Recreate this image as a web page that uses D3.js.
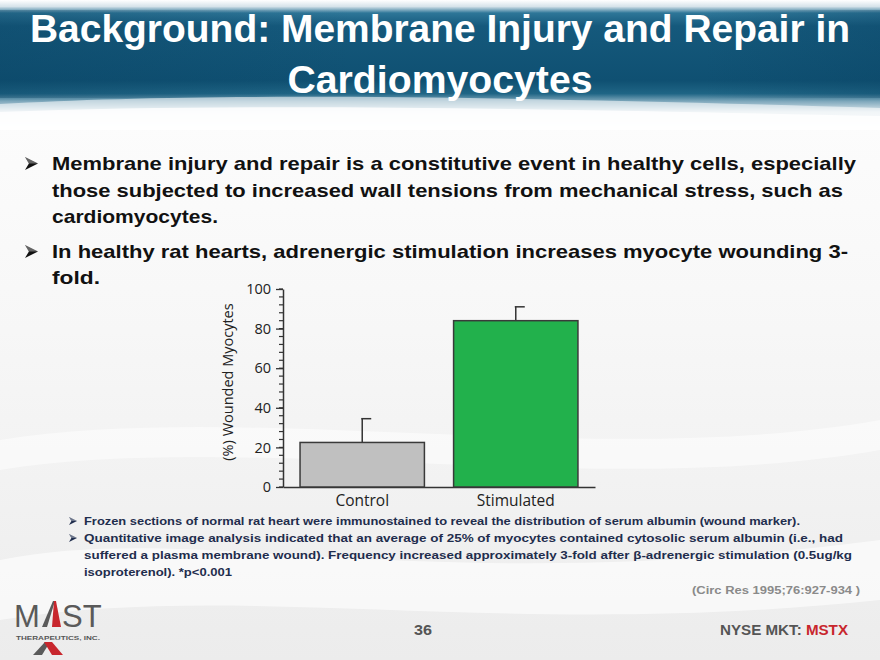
<!DOCTYPE html>
<html><head><meta charset="utf-8">
<script src="https://cdn.jsdelivr.net/npm/d3@7"></script>
<style>
html,body{margin:0;padding:0;background:#fff;}
svg{display:block;}
</style></head>
<body>
<script>
// ---- data ----
const categories = ["Control", "Stimulated"];
const values = [22.5, 84];
const errors = [12, 7];
const yTicks = [0, 20, 40, 60, 80, 100];
const yLabel = "(%) Wounded Myocytes";
const titleLines = ["Background: Membrane Injury and Repair in", "Cardiomyocytes"];
const bulletLines = [
  ["Membrane injury and repair is a constitutive event in healthy cells, especially", true],
  ["those subjected to increased wall tensions from mechanical stress, such as", false],
  ["cardiomyocytes.", false],
  ["In healthy rat hearts, adrenergic stimulation increases myocyte wounding 3-", true],
  ["fold.", false]
];
const noteLines = [
  ["Frozen sections of normal rat heart were immunostained to reveal the distribution of serum albumin (wound marker).", true],
  ["Quantitative image analysis indicated that an average of 25% of myocytes contained cytosolic serum albumin (i.e., had", true],
  ["suffered a plasma membrane wound). Frequency increased approximately 3-fold after \u03b2-adrenergic stimulation (0.5ug/kg", false],
  ["isoproterenol). *p<0.001", false]
];
const citation = "(Circ Res 1995;76:927-934 )";

const W = 880, H = 660;
const svg = d3.select("body").append("svg").attr("width", W).attr("height", H);
const defs = svg.append("defs");

// background
const bg = defs.append("linearGradient").attr("id","bg").attr("x1",0).attr("y1",0).attr("x2",0).attr("y2",1);
[[0,"#ffffff"],[0.5,"#f7f7f7"],[1,"#ececec"]].forEach(s=>bg.append("stop").attr("offset",s[0]).attr("stop-color",s[1]));
svg.append("rect").attr("width",W).attr("height",H).attr("fill","url(#bg)");
svg.append("path").attr("d","M0,560 C200,520 420,600 880,540 L880,600 C500,640 250,580 0,620 Z").attr("fill","#ffffff").attr("opacity",0.6);
svg.append("path").attr("d","M0,440 C250,400 600,470 880,420 L880,450 C600,500 250,430 0,470 Z").attr("fill","#ffffff").attr("opacity",0.5);

// header
const hg = defs.append("linearGradient").attr("id","hg").attr("x1",0).attr("y1",0).attr("x2",0).attr("y2",1);
[[0,"#ffffff"],[0.05,"#d6e3ea"],[0.1,"#2e7698"],[0.2,"#15597c"],[0.62,"#0f5072"],[0.72,"#1f6585"],[0.78,"#7fa8bc"],[0.86,"#dfe9ee"],[1,"#ffffff"]]
  .forEach(s=>hg.append("stop").attr("offset",s[0]).attr("stop-color",s[1]));
svg.append("rect").attr("x",0).attr("y",0).attr("width",W).attr("height",130).attr("fill","url(#hg)");
const hz = defs.append("linearGradient").attr("id","hz").attr("x1",0).attr("y1",0).attr("x2",1).attr("y2",0);
[[0,"#0a4262",0.35],[0.4,"#0a4262",0],[0.8,"#0a4262",0],[1,"#0a4262",0.3]].forEach(s=>hz.append("stop").attr("offset",s[0]).attr("stop-color",s[1]).attr("stop-opacity",s[2]));
svg.append("rect").attr("x",0).attr("y",10).attr("width",W).attr("height",88).attr("fill","url(#hz)");
svg.append("path").attr("d","M0,104 C200,92 500,96 880,108 L880,130 L0,130 Z").attr("fill","#ffffff").attr("opacity",0.55);
svg.append("path").attr("d","M0,112 C250,102 600,110 880,116 L880,130 L0,130 Z").attr("fill","#ffffff").attr("opacity",0.8);

// title
const titleLen = [820, 305];
svg.append("g").selectAll("text").data(titleLines).join("text")
  .attr("x",440).attr("y",(d,i)=>42+i*51)
  .attr("text-anchor","middle")
  .attr("font-family","Liberation Sans, Arial, sans-serif").attr("font-weight","bold")
  .attr("font-size",38).attr("fill","#ffffff")
  .attr("textLength",(d,i)=>titleLen[i]).attr("lengthAdjust","spacingAndGlyphs")
  .text(d=>d);

// arrow bullet shape
function arrow(g, x0, yc, s, fill){
  g.append("path")
    .attr("d",`M${x0},${yc-s*0.5} L${x0+s},${yc} L${x0},${yc+s*0.5} L${x0+s*0.3},${yc} Z`)
    .attr("fill",fill);
  g.append("path")
    .attr("d",`M${x0},${yc-s*0.5} L${x0+s},${yc} L${x0+s*0.3},${yc} Z`)
    .attr("fill","#ffffff").attr("opacity",0.35);
}

// bullets
const bodyFont = "Liberation Sans, Arial, sans-serif";
const bY = [170, 197, 223, 258, 284];
const bEnd = [856, 843, 218, 848, 100];
const bg2 = svg.append("g");
bulletLines.forEach((d,i)=>{
  if(d[1]) arrow(bg2, 25, bY[i]-6.5, 13, "#111");
  bg2.append("text").attr("x",52).attr("y",bY[i]).attr("font-family",bodyFont).attr("font-weight","bold").attr("font-size",18.5).attr("fill","#111")
    .attr("textLength",bEnd[i]-52).attr("lengthAdjust","spacingAndGlyphs").text(d[0]);
});

// chart
const x = d3.scaleBand().domain(categories).range([283,595]).paddingInner(0.19).paddingOuter(0.111);
const y = d3.scaleLinear().domain([0,100]).range([487,289]);
const chartFont = "Open Sans, Noto Sans, sans-serif";
const cg = svg.append("g");
cg.append("g").selectAll("line").data(d3.range(0,101,4)).join("line")
  .attr("x1",283).attr("x2",279).attr("y1",d=>y(d)).attr("y2",d=>y(d)).attr("stroke","#333").attr("stroke-width",1.2);
const yAxis = cg.append("g").attr("transform","translate(283,0)")
  .call(d3.axisLeft(y).tickValues(yTicks).tickSize(7).tickPadding(5).tickSizeOuter(0));
yAxis.select(".domain").attr("stroke","#333").attr("stroke-width",1.5);
yAxis.selectAll(".tick line").attr("stroke","#333").attr("stroke-width",1.3);
yAxis.selectAll(".tick text").attr("font-family",chartFont).attr("font-size",14.5).attr("fill","#222");
const xAxis = cg.append("g").attr("transform","translate(0,487)")
  .call(d3.axisBottom(x).tickSize(0).tickPadding(8).tickSizeOuter(0));
xAxis.select(".domain").attr("stroke","#333").attr("stroke-width",1.5);
xAxis.selectAll(".tick text").attr("font-family",chartFont).attr("font-size",15.5).attr("fill","#222");
cg.append("text").attr("transform","translate(233,382) rotate(-90)").attr("text-anchor","middle")
  .attr("font-family",chartFont).attr("font-size",14.5).attr("fill","#222").text(yLabel);
const colors = ["#c0c0c0","#22b14c"];
cg.append("g").selectAll("line").data(categories).join("line")
  .attr("x1",d=>x(d)+x.bandwidth()/2).attr("x2",d=>x(d)+x.bandwidth()/2)
  .attr("y1",(d,i)=>y(values[i])).attr("y2",(d,i)=>y(values[i]+errors[i]))
  .attr("stroke","#333").attr("stroke-width",1.5);
cg.append("g").selectAll("line").data(categories).join("line")
  .attr("x1",d=>x(d)+x.bandwidth()/2-1).attr("x2",d=>x(d)+x.bandwidth()/2+9)
  .attr("y1",(d,i)=>y(values[i]+errors[i])).attr("y2",(d,i)=>y(values[i]+errors[i]))
  .attr("stroke","#333").attr("stroke-width",1.5);
cg.append("g").selectAll("rect").data(categories).join("rect")
  .attr("x",d=>x(d)).attr("width",x.bandwidth())
  .attr("y",(d,i)=>y(values[i])).attr("height",(d,i)=>y(0)-y(values[i]))
  .attr("fill",(d,i)=>colors[i]).attr("stroke","#3a3a3a").attr("stroke-width",1.5);

// notes
const nY = [525, 542, 559, 576];
const nEnd = [800, 843, 852, 232];
const ng = svg.append("g");
noteLines.forEach((d,i)=>{
  if(d[1]) arrow(ng, 69, nY[i]-4, 8, "#1f2d4d");
  ng.append("text").attr("x",84).attr("y",nY[i]).attr("font-family",bodyFont).attr("font-weight","bold").attr("font-size",11).attr("fill","#1f2d4d")
    .attr("textLength",nEnd[i]-84).attr("lengthAdjust","spacingAndGlyphs").text(d[0]);
});
svg.append("text").attr("x",860).attr("y",594).attr("text-anchor","end").attr("font-family",bodyFont).attr("font-weight","bold")
  .attr("font-size",11.5).attr("fill","#8a8a8a").attr("textLength",168).attr("lengthAdjust","spacingAndGlyphs").text(citation);

// footer
svg.append("text").attr("x",423).attr("y",635).attr("text-anchor","middle").attr("font-family",bodyFont).attr("font-weight","bold")
  .attr("font-size",14).attr("fill","#555").attr("textLength",18).attr("lengthAdjust","spacingAndGlyphs").text("36");
const ft = svg.append("text").attr("x",848).attr("y",635).attr("text-anchor","end").attr("font-family",bodyFont).attr("font-weight","bold")
  .attr("font-size",14).attr("fill","#555").attr("textLength",128).attr("lengthAdjust","spacingAndGlyphs");
ft.append("tspan").text("NYSE MKT:  ");
ft.append("tspan").attr("fill","#c8262d").text("MSTX");

// logo
const lg = svg.append("g");
const logoFont = "Liberation Sans Narrow, Liberation Sans, sans-serif";
lg.append("text").attr("x",14).attr("y",627).attr("font-family",logoFont).attr("font-size",31).attr("fill","#5a5a5a").text("M");
lg.append("path").attr("d","M42,627 L53,601 L55,601 L47,627 Z").attr("fill","#5a5a5a");
lg.append("path").attr("d","M54,601 L56,601 L61,627 L52,627 Z").attr("fill","#c8262d");
lg.append("text").attr("x",62).attr("y",627).attr("font-family",logoFont).attr("font-size",31).attr("fill","#5a5a5a").text("ST");
lg.append("text").attr("x",16).attr("y",640).attr("font-family",bodyFont).attr("font-weight","bold").attr("font-size",5.5).attr("fill","#555")
  .attr("textLength",84).attr("lengthAdjust","spacingAndGlyphs").text("THERAPEUTICS, INC.");
lg.append("path").attr("d","M33,655 L45,642 L50,642 L42,655 Z").attr("fill","#5a5a5a");
lg.append("path").attr("d","M44,642 L52,642 L63,655 L52,655 Z").attr("fill","#c8262d");
</script>
</body></html>
